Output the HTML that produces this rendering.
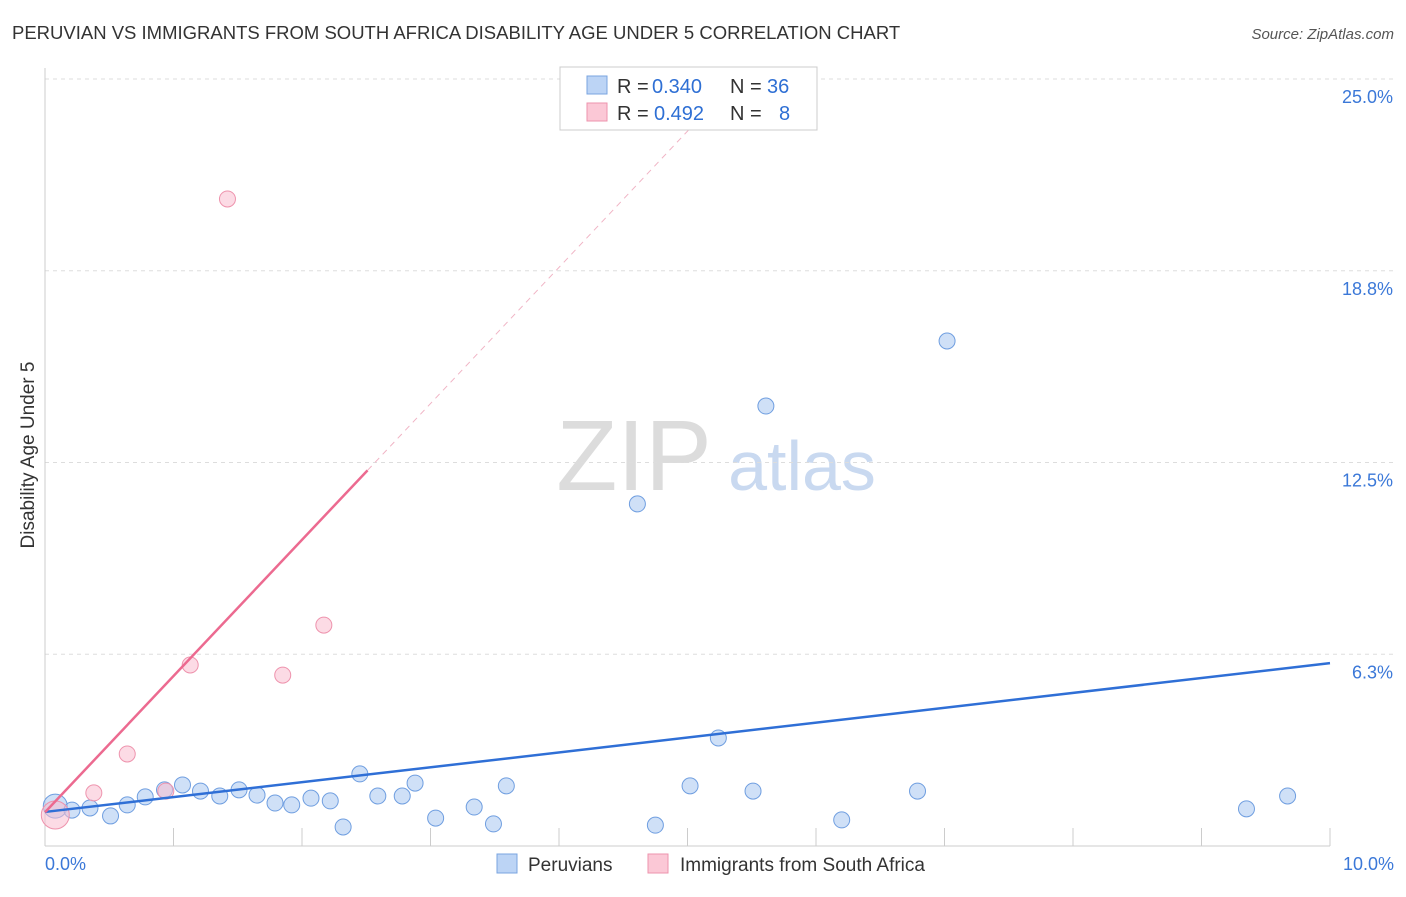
<!DOCTYPE html>
<html><head><meta charset="utf-8"><style>
body{margin:0;background:#fff;font-family:"Liberation Sans",sans-serif;}
svg text{font-family:"Liberation Sans",sans-serif;}
</style></head><body>
<svg id="chart" width="1406" height="892">
<text x="12" y="39" font-size="18.5" fill="#333">PERUVIAN VS IMMIGRANTS FROM SOUTH AFRICA DISABILITY AGE UNDER 5 CORRELATION CHART</text>
<text x="1394" y="39" font-size="15" fill="#555" font-style="italic" text-anchor="end">Source: ZipAtlas.com</text>
<text x="634" y="490" font-size="100" fill="#dcdcdc" font-family="Liberation Serif" text-anchor="middle">ZIP</text>
<text x="802" y="490" font-size="70" fill="#c9d9f0" text-anchor="middle">atlas</text>
<text transform="translate(34,455) rotate(-90)" font-size="19" fill="#333" text-anchor="middle">Disability Age Under 5</text>
<g id="grid"></g><g id="marks"></g>
<g>
<rect x="560" y="67" width="257" height="63" fill="#fff" stroke="#ccc"/>
<rect x="587" y="76" width="20" height="18" fill="#bcd4f5" stroke="#7aa4e0"/>
<rect x="587" y="103" width="20" height="18" fill="#fbc8d6" stroke="#ee93ad"/>
<text x="617" y="93" font-size="20" fill="#333">R = </text><text x="652" y="93" font-size="20" fill="#2e6fd4">0.340</text>
<text x="730" y="93" font-size="20" fill="#333">N = </text><text x="767" y="93" font-size="20" fill="#2e6fd4">36</text>
<text x="617" y="120" font-size="20" fill="#333">R = </text><text x="654" y="120" font-size="20" fill="#2e6fd4">0.492</text>
<text x="730" y="120" font-size="20" fill="#333">N = </text><text x="779" y="120" font-size="20" fill="#2e6fd4">8</text>
</g>
<g>
<rect x="497" y="854" width="20" height="19" fill="#bcd4f5" stroke="#7aa4e0"/>
<text x="528" y="871" font-size="19" fill="#333">Peruvians</text>
<rect x="648" y="854" width="20" height="19" fill="#fbc8d6" stroke="#ee93ad"/>
<text x="680" y="871" font-size="19" fill="#333">Immigrants from South Africa</text>
</g>
</svg>
<script>
const yTicks=[6.25,12.5,18.75,25];
const yTickLabels=["6.3%","12.5%","18.8%","25.0%"];
const blueX=[0.08,0.21,0.35,0.51,0.64,0.78,0.93,1.07,1.21,1.36,1.51,1.65,1.79,1.92,2.07,2.22,2.32,2.45,2.59,2.78,2.88,3.04,3.34,3.49,3.59,4.61,4.75,5.02,5.24,5.51,5.61,6.20,6.79,7.02,9.35,9.67];
const blueY=[1.30,1.17,1.24,0.98,1.34,1.60,1.83,1.99,1.79,1.63,1.83,1.66,1.40,1.34,1.56,1.47,0.62,2.35,1.63,1.63,2.05,0.91,1.27,0.72,1.96,11.15,0.68,1.96,3.52,1.79,14.34,0.85,1.79,16.46,1.21,1.63];
const pinkX=[0.08,0.38,0.64,0.94,1.13,1.42,1.85,2.17];
const pinkY=[1.01,1.73,3.00,1.79,5.90,21.09,5.57,7.20];
const blueTrend=[1.11,0.485];
const pinkTrend=[1.1,4.44];
const NS="http://www.w3.org/2000/svg";
const X=v=>45+v*128.5, Y=v=>846-v*30.68;
function mk(p,t,a){const e=document.createElementNS(NS,t);for(const k in a)e.setAttribute(k,a[k]);p.appendChild(e);return e;}
const g=document.getElementById('grid'), m=document.getElementById('marks');
yTicks.forEach((t,i)=>{
 const l=mk(g,'line',{x1:45,x2:1395,y1:Y(t),y2:Y(t),stroke:'#ddd','stroke-dasharray':'4,4'});
 
 
 const tx=mk(g,'text',{x:1393,y:Y(t)+24,'font-size':18,fill:'#3b78d8','text-anchor':'end'});tx.textContent=yTickLabels[i];
 
 
});
mk(g,'line',{x1:45,x2:45,y1:68,y2:846,stroke:'#ccc'});
mk(g,'line',{x1:45,x2:1330,y1:846,y2:846,stroke:'#ccc'});
for(let i=1;i<=10;i++){mk(g,'line',{x1:X(i),x2:X(i),y1:828,y2:846,stroke:'#ccc'});}
const x0=mk(g,'text',{x:45,y:870,'font-size':18,fill:'#3b78d8'});x0.textContent="0.0%";


const x1=mk(g,'text',{x:1394,y:870,'font-size':18,fill:'#3b78d8','text-anchor':'end'});x1.textContent="10.0%";


blueX.forEach((x,i)=>{const c=mk(m,'circle',{cx:X(x),cy:Y(blueY[i]),r:i==0?12:8,fill:'rgba(168,198,240,0.55)',stroke:'#6f9ee0'});
 
 });
pinkX.forEach((x,i)=>{const c=mk(m,'circle',{cx:X(x),cy:Y(pinkY[i]),r:i==0?14:8,fill:'rgba(250,190,208,0.55)',stroke:'#ee93ad'});
 
 });
const bl=mk(m,'line',{x1:X(0),y1:Y(blueTrend[0]),x2:X(10),y2:Y(blueTrend[0]+10*blueTrend[1]),stroke:'#2f6fd6','stroke-width':2.5});


const xe=2.51, xd=(25-pinkTrend[0])/pinkTrend[1];
const pl=mk(m,'line',{x1:X(0),y1:Y(pinkTrend[0]),x2:X(xe),y2:Y(pinkTrend[0]+xe*pinkTrend[1]),stroke:'#ec6a90','stroke-width':2.5});


const pd=mk(m,'line',{x1:X(xe),y1:Y(pinkTrend[0]+xe*pinkTrend[1]),x2:X(xd),y2:Y(25),stroke:'#f0b3c4','stroke-width':1,'stroke-dasharray':'6,5'});


</script>
</body></html>
